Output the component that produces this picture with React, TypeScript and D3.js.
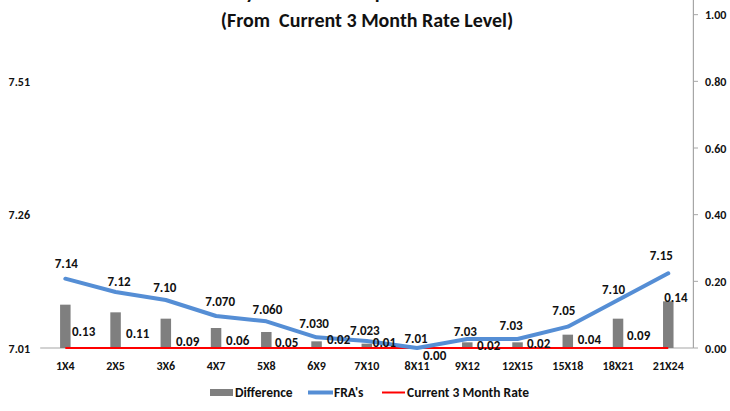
import React from "react";
import * as d3 from "d3";

// tenors on the x axis
const categories = ["1X4", "2X5", "3X6", "4X7", "5X8", "6X9", "7X10", "8X11", "9X12", "12X15", "15X18", "18X21", "21X24"];
// FRA rates (left axis)
const fraRates = [7.14, 7.115, 7.1, 7.07, 7.06, 7.03, 7.023, 7.01, 7.027, 7.027, 7.05, 7.1, 7.15];
const fraLabels = ["7.14", "7.12", "7.10", "7.070", "7.060", "7.030", "7.023", "7.01", "7.03", "7.03", "7.05", "7.10", "7.15"];
// difference from current 3 month rate (right axis)
const differences = [0.13, 0.107, 0.088, 0.06, 0.048, 0.02, 0.013, 0.0, 0.017, 0.017, 0.04, 0.088, 0.14];
const currentRate = 7.01;

const leftTicks = [7.01, 7.26, 7.51];
const rightTicks = [0, 0.2, 0.4, 0.6, 0.8, 1.0];

// hand-placed data label nudges (px)
const fraLabelDx = [1, 3.5, -1, 4, 1, -2.5, -2, -1, -2, -6.5, -4, -4.5, -7];
const fraLabelLift = [16, 11, 13, 15, 12, 14, 11, 10, 8, 14, 17, 11, 18];
const diffLabelDx = [6.7, 10.5, 10.2, 10, 8.7, 10.5, 6, 6, 9.7, 9.5, 10, 9, -4];
const diffLabelLift = [17, 15, 7, 8, 6, 9, 6, -7, 3, 5, 9, 13, 51];

const W = 730;
const H = 411;
const FONT = "Carlito, Lato, sans-serif";

export default function App() {
  const x = d3.scaleBand<string>().domain(categories).range([40.2, 693.4]).padding(0);
  const yL = d3.scaleLinear().domain([7.01, 7.76]).range([348, -52]);
  const yR = d3.scaleLinear().domain([0, 1.2]).range([348, -52]);
  const cx = (c: string) => (x(c) as number) + x.bandwidth() / 2;
  const barW = 10.5;

  const line = d3
    .line<number>()
    .x((_, i) => cx(categories[i]))
    .y((d) => yL(d));

  const fmt = d3.format(".2f");

  return (
    <svg width={W} height={H} style={{ position: "absolute", left: 0, top: 0, background: "#fff" }} fontFamily={FONT} fill="#111">
      <rect width={W} height={H} fill="#fff" />
      {/* title */}
      <text x={366} y={-1} textAnchor="middle" fontSize={20} fontWeight="bold">Daily FRA Rates &amp; Spread Movement</text>
      <text x={367} y={27} textAnchor="middle" fontSize={20} fontWeight="bold" style={{ whiteSpace: "pre" }}>(From  Current 3 Month Rate Level)</text>

      {/* left axis labels */}
      {leftTicks.map((t) => (
        <text key={t} x={30} y={yL(t) + 4.5} textAnchor="end" fontSize={12} fontWeight="bold">{fmt(t)}</text>
      ))}

      {/* right axis */}
      <line x1={693.4} x2={693.4} y1={0} y2={348} stroke="#a6a6a6" strokeWidth={1.2} />
      {rightTicks.map((t) => (
        <g key={t}>
          <line x1={693.4} x2={698} y1={yR(t)} y2={yR(t)} stroke="#a6a6a6" strokeWidth={1} />
          <text x={705} y={yR(t) + 4.5} fontSize={12} fontWeight="bold">{fmt(t)}</text>
        </g>
      ))}

      {/* category axis */}
      <line x1={40.2} x2={693.4} y1={348} y2={348} stroke="#a6a6a6" strokeWidth={1.2} />
      {categories.map((c) => (
        <text key={c} x={cx(c)} y={370} textAnchor="middle" fontSize={12} fontWeight="bold">{c}</text>
      ))}

      {/* bars */}
      {differences.map((d, i) => (
        <rect key={i} x={cx(categories[i]) - barW / 2} width={barW} y={yR(d)} height={yR(0) - yR(d)} fill="#7f7f7f" />
      ))}

      {/* current rate */}
      <line
        x1={cx(categories[0])}
        x2={cx(categories[categories.length - 1])}
        y1={yL(currentRate)}
        y2={yL(currentRate)}
        stroke="#ff0000"
        strokeWidth={2}
      />

      {/* FRA line */}
      <path d={line(fraRates) as string} fill="none" stroke="#558ed5" strokeWidth={4} strokeLinejoin="round" strokeLinecap="round" />

      {/* FRA labels */}
      {fraRates.map((v, i) => (
        <text
          key={i}
          x={cx(categories[i]) + fraLabelDx[i]}
          y={yL(v) - fraLabelLift[i] + 5}
          textAnchor="middle"
          fontSize={13}
          fontWeight="bold"
        >
          {fraLabels[i]}
        </text>
      ))}

      {/* difference labels */}
      {differences.map((d, i) => (
        <text key={i} x={cx(categories[i]) + diffLabelDx[i]} y={yR(0) - diffLabelLift[i] + 5} fontSize={13} fontWeight="bold">
          {fmt(d)}
        </text>
      ))}

      {/* legend */}
      <g>
        <rect x={210} y={389} width={23} height={7} fill="#7f7f7f" />
        <text x={235} y={397} fontSize={13.5} fontWeight="bold">Difference</text>
        <line x1={308} x2={333} y1={392.5} y2={392.5} stroke="#558ed5" strokeWidth={4} />
        <text x={334} y={397} fontSize={13.5} fontWeight="bold">FRA's</text>
        <line x1={382} x2={405} y1={392.5} y2={392.5} stroke="#ff0000" strokeWidth={2} />
        <text x={407} y={397} fontSize={13.5} fontWeight="bold">Current 3 Month Rate</text>
      </g>
    </svg>
  );
}
